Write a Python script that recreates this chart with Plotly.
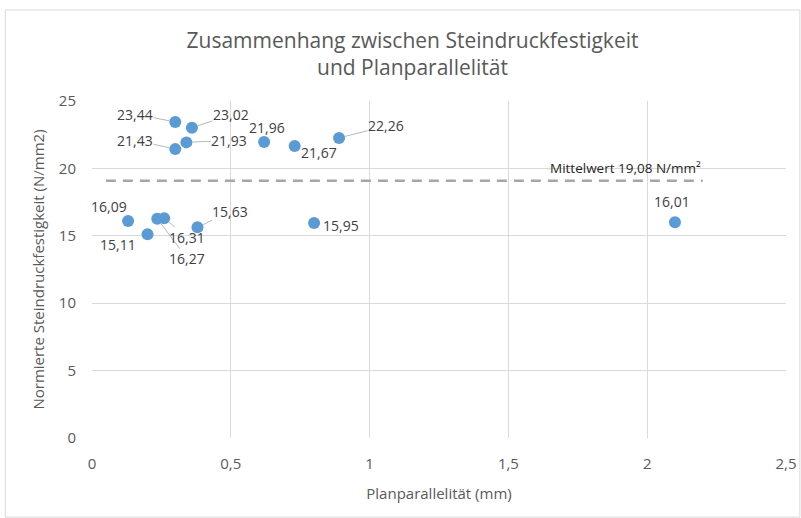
import plotly.graph_objects as go

# ---- data ----
planparallelitaet = [0.30, 0.36, 0.30, 0.34, 0.62, 0.73, 0.89, 0.13, 0.20, 0.235, 0.26, 0.38, 0.80, 2.10]
steindruck = [23.44, 23.02, 21.43, 21.93, 21.96, 21.67, 22.26, 16.09, 15.11, 16.27, 16.31, 15.63, 15.95, 16.01]
mittelwert = 19.08
mittel_x = [0.05, 2.2]
x_ticks = [0, 0.5, 1, 1.5, 2, 2.5]
x_ticklabels = ["0", "0,5", "1", "1,5", "2", "2,5"]
y_ticks = [0, 5, 10, 15, 20, 25]
y_ticklabels = ["0", "5", "10", "15", "20", "25"]

# label placement (pixel offsets: dx, dy (screen, down positive), leader line?)
label_pos = [(-40, -8, True), (39, -13, True), (-40, -9, True), (43, -2, True),
             (3, -14, False), (24, 7, False), (47, -12, True), (-19, -15, False),
             (-30, 10, False), (30, 40, True), (23, 19, True), (33, -16, True),
             (27, 3, False), (-3, -21, False)]

FONT = "Open Sans"
GREY = "#595959"

fig = go.Figure()
fig.add_trace(go.Scatter(x=mittel_x, y=[mittelwert, mittelwert], mode="lines",
                         line=dict(color="#a6a6a6", width=2.5, dash="10px,7px"),
                         hoverinfo="skip", showlegend=False))
fig.add_trace(go.Scatter(x=planparallelitaet, y=steindruck, mode="markers",
                         marker=dict(color="#5b9bd5", size=12), showlegend=False))

for xv, yv, (dx, dy, leader) in zip(planparallelitaet, steindruck, label_pos):
    txt = f"{yv:.2f}".replace(".", ",")
    if leader:
        fig.add_annotation(x=xv, y=yv, text=txt, showarrow=True, ax=dx, ay=dy,
                           arrowhead=0, arrowwidth=0.8, arrowcolor="#a6a6a6",
                           standoff=6, borderpad=0,
                           font=dict(family=FONT, size=14, color="#404040"))
    else:
        fig.add_annotation(x=xv, y=yv, text=txt, showarrow=False, xshift=dx, yshift=-dy,
                           font=dict(family=FONT, size=14, color="#404040"))

fig.add_annotation(x=mittel_x[1], y=mittelwert, text="Mittelwert " + f"{mittelwert:.2f}".replace(".", ",") + " N/mm²",
                   showarrow=False, xanchor="right", yanchor="bottom", yshift=2,
                   font=dict(family=FONT, size=13.5, color="#262626"))

# outer chart border
fig.add_shape(type="rect", xref="paper", yref="paper", x0=-0.125, x1=1.02, y0=-0.235, y1=1.27,
              line=dict(color="#d9d9d9", width=1), fillcolor="rgba(0,0,0,0)", layer="below")

fig.update_layout(
    width=801, height=518,
    margin=dict(l=92, r=15, t=101, b=80, autoexpand=False),
    paper_bgcolor="white", plot_bgcolor="white",
    title=dict(text="Zusammenhang zwischen Steindruckfestigkeit<br>und Planparallelität",
               x=0.515, xanchor="center", y=0.907, yanchor="top",
               font=dict(family=FONT, size=21, color=GREY)),
    font=dict(family=FONT, color=GREY),
)
fig.update_xaxes(range=[0, 2.5], tickvals=x_ticks, ticktext=x_ticklabels,
                 showgrid=True, gridcolor="#d9d9d9", zeroline=False, automargin=False,
                 showline=False, ticks="", ticklabelstandoff=15,
                 tickfont=dict(family=FONT, size=15, color=GREY),
                 title=dict(text="Planparallelität (mm)", font=dict(family=FONT, size=15, color=GREY), standoff=16))
fig.update_yaxes(range=[0, 25], tickvals=y_ticks, ticktext=y_ticklabels,
                 showgrid=True, gridcolor="#d9d9d9", zeroline=False, automargin=False,
                 showline=False, ticks="", ticklabelstandoff=15,
                 tickfont=dict(family=FONT, size=15, color=GREY),
                 title=dict(text="Normierte Steindruckfestigkeit (N/mm2)", font=dict(family=FONT, size=15, color=GREY), standoff=10))

fig.write_html("out.html", config={"displayModeBar": False},
               post_script="document.body.style.margin='0';")
